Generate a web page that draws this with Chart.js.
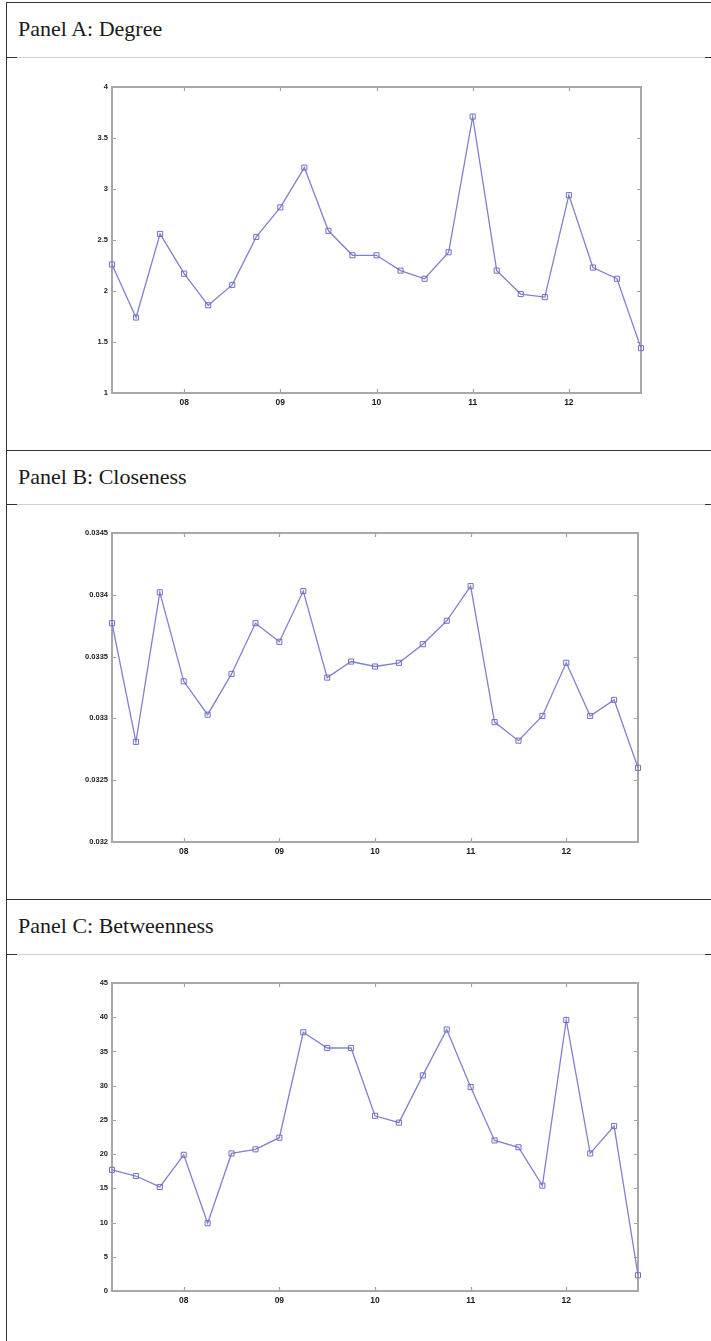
<!DOCTYPE html>
<html>
<head>
<meta charset="utf-8">
<script src="https://cdn.jsdelivr.net/npm/chart.js@4.4.1/dist/chart.umd.min.js"></script>
<style>
  html, body { margin:0; padding:0; background:#fff; }
  body { width:711px; height:1341px; position:relative; overflow:hidden; }
  .hline { position:absolute; left:6px; right:0; height:0; border-top:1.5px solid #333; }
  .lightline { position:absolute; left:6px; right:0; height:0; border-top:1px solid #cfcfcf; }
  .stub { position:absolute; height:0; border-top:1.5px solid #333; }
  .vline { position:absolute; left:6px; top:2px; bottom:0; width:0; border-left:1.5px solid #333; }
  .title { position:absolute; left:18px; font-family:'Liberation Serif', 'DejaVu Serif', serif; font-size:22px; line-height:22px; color:#1a1a1a; white-space:nowrap; }
  canvas { position:absolute; left:0; }
</style>
</head>
<body>
<div class="vline"></div>
<script>
// ---- data (quarterly, 2007Q2 .. 2012Q4) ----
const quarters = ['2007Q2','2007Q3','2007Q4',
  '2008Q1','2008Q2','2008Q3','2008Q4',
  '2009Q1','2009Q2','2009Q3','2009Q4',
  '2010Q1','2010Q2','2010Q3','2010Q4',
  '2011Q1','2011Q2','2011Q3','2011Q4',
  '2012Q1','2012Q2','2012Q3','2012Q4'];
const degree = [2.26,1.74,2.56,2.17,1.86,2.06,2.53,2.82,3.21,2.59,2.35,2.35,
  2.20,2.12,2.38,3.71,2.20,1.97,1.94,2.94,2.23,2.12,1.44];
const closeness = [0.03377,0.03281,0.03402,0.03330,0.03303,0.03336,0.03377,0.03362,
  0.03403,0.03333,0.03346,0.03342,0.03345,0.03360,0.03379,0.03407,0.03297,0.03282,
  0.03302,0.03345,0.03302,0.03315,0.03260];
const betweenness = [17.7,16.8,15.2,19.9,9.9,20.1,20.7,22.4,37.8,35.5,35.5,25.6,
  24.6,31.5,38.2,29.8,22.0,21.0,15.4,39.6,20.1,24.1,2.3];
const degreeTicks = [1,1.5,2,2.5,3,3.5,4];
const closenessTicks = [0.032,0.0325,0.033,0.0335,0.034,0.0345];
const betweennessTicks = [0,5,10,15,20,25,30,35,40,45];
const panelTitles = ['Panel A: Degree','Panel B: Closeness','Panel C: Betweenness'];

// ---- layout ----
const layout = [
  {T:2,   line:57,  plotTop:87,  plotBottom:393,  plotRight:641},
  {T:450, line:504, plotTop:533, plotBottom:842,  plotRight:638},
  {T:899, line:954, plotTop:983, plotBottom:1291, plotRight:638}
];
const series = [degree, closeness, betweenness];
const yTicks = [degreeTicks, closenessTicks, betweennessTicks];

function fmt(v){ return String(parseFloat(v.toFixed(6))); }

const boxPlugin = {
  id:'matlabBox',
  beforeDatasetsDraw(chart){
    const {ctx, chartArea:a, scales} = chart;
    ctx.save();
    ctx.strokeStyle = '#a3a3a3';
    ctx.lineWidth = 1.2;
    const tl = 4;
    ctx.beginPath();
    const xs = scales.x;
    xs.ticks.forEach((t,i)=>{
      const px = Math.round(xs.getPixelForTick(i))+0.5;
      ctx.moveTo(px, a.bottom); ctx.lineTo(px, a.bottom - tl);
      ctx.moveTo(px, a.top); ctx.lineTo(px, a.top + tl);
    });
    const ys = scales.y;
    ys.ticks.forEach((t,i)=>{
      const py = Math.round(ys.getPixelForTick(i))+0.5;
      ctx.moveTo(a.left, py); ctx.lineTo(a.left + tl, py);
      ctx.moveTo(a.right, py); ctx.lineTo(a.right - tl, py);
    });
    ctx.stroke();
    ctx.lineWidth = 2;
    ctx.strokeStyle = '#a8a8a8';
    ctx.strokeRect(a.left, a.top, a.right - a.left, a.bottom - a.top);
    ctx.restore();
  }
};

layout.forEach((L, p) => {
  const body = document.body;
  const h = document.createElement('div'); h.className='hline'; h.style.top = L.T+'px'; body.appendChild(h);
  const t = document.createElement('div'); t.className='title'; t.textContent = panelTitles[p];
  t.style.top = (L.T + 16) + 'px'; body.appendChild(t);
  const ll = document.createElement('div'); ll.className='lightline'; ll.style.top = L.line+'px'; body.appendChild(ll);
  const s1 = document.createElement('div'); s1.className='stub'; s1.style.left='6px'; s1.style.width='11px'; s1.style.top=L.line+'px'; body.appendChild(s1);
  const s2 = document.createElement('div'); s2.className='stub'; s2.style.left='705px'; s2.style.width='6px'; s2.style.top=L.line+'px'; body.appendChild(s2);

  const padTop = 15, xH = 30;
  const cv = document.createElement('canvas');
  const H = (L.plotBottom - L.plotTop) + padTop + xH;
  cv.width = 711; cv.height = H;
  cv.style.width = '711px'; cv.style.height = H+'px';
  cv.style.top = (L.plotTop - padTop) + 'px';
  body.appendChild(cv);

  const ticksArr = yTicks[p];
  new Chart(cv, {
    type:'line',
    data:{ labels: quarters, datasets:[{
      data: series[p],
      borderColor:'#8080d0', borderWidth:1.3,
      pointStyle:'rect', pointRadius:3.6, pointBorderWidth:1,
      pointBorderColor:'#7070c8', pointBackgroundColor:'rgba(0,0,0,0)',
      tension:0, fill:false
    }]},
    options:{
      responsive:false, animation:false,
      devicePixelRatio:1,
      layout:{ padding:{ top:padTop, left:0, right:711 - L.plotRight, bottom:0 } },
      plugins:{ legend:{display:false}, tooltip:{enabled:false}, title:{display:false} },
      scales:{
        x:{
          type:'category', offset:false,
          grid:{ display:false, drawTicks:false },
          border:{ display:false },
          afterFit(s){ s.height = xH; },
          afterBuildTicks(s){ s.ticks = s.ticks.filter(tk => quarters[tk.value].endsWith('Q1')); },
          ticks:{ autoSkip:false, maxRotation:0, padding:5, color:'#1a1a1a',
            font:{ family:"'Liberation Sans', Arial, sans-serif", size:8.5, weight:'bold' },
            callback(v){ return quarters[v].slice(2,4); } }
        },
        y:{
          min: ticksArr[0], max: ticksArr[ticksArr.length-1],
          grid:{ display:false, drawTicks:false },
          border:{ display:false },
          afterFit(s){ s.width = 112; },
          afterBuildTicks(s){ s.ticks = ticksArr.map(v => ({value:v})); },
          ticks:{ padding:4, color:'#1a1a1a',
            font:{ family:"'Liberation Sans', Arial, sans-serif", size:7.5, weight:'bold' },
            callback(v){ return fmt(v); } }
        }
      }
    },
    plugins:[boxPlugin]
  });
});
</script>
</body>
</html>
